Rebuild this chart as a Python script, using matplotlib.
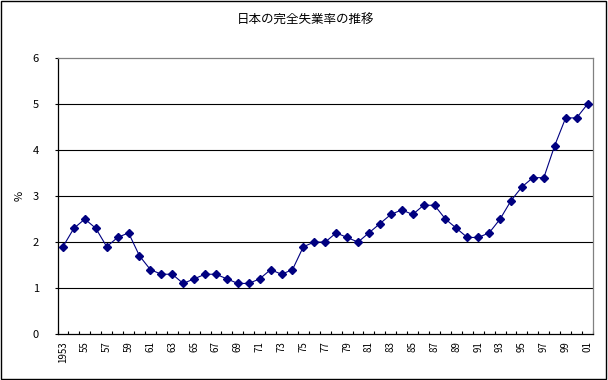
import matplotlib.pyplot as plt
from matplotlib.patches import Rectangle

plt.rcParams['font.family'] = ['Noto Sans CJK JP', 'DejaVu Sans']

years = list(range(1953, 2002))
rates = [1.9, 2.3, 2.5, 2.3, 1.9, 2.1, 2.2, 1.7, 1.4, 1.3,
         1.3, 1.1, 1.2, 1.3, 1.3, 1.2, 1.1, 1.1, 1.2, 1.4,
         1.3, 1.4, 1.9, 2.0, 2.0, 2.2, 2.1, 2.0, 2.2, 2.4,
         2.6, 2.7, 2.6, 2.8, 2.8, 2.5, 2.3, 2.1, 2.1, 2.2,
         2.5, 2.9, 3.2, 3.4, 3.4, 4.1, 4.7, 4.7, 5.0]
tick_labels = ['1953'] + ['%02d' % (y % 100) for y in years[2::2]]

fig = plt.figure(figsize=(6.08, 3.8), dpi=100)
ax = fig.add_axes([0.0946, 0.121, 0.8807, 0.726])

x = list(range(len(years)))
ax.plot(x, rates, color='#000080', linewidth=0.8, marker='D',
        markersize=3.6, markerfacecolor='#000080', markeredgecolor='#000080',
        zorder=3)

ax.set_ylim(0, 6)
ax.set_xlim(-0.5, len(years) - 0.5)
ax.set_yticks(range(0, 7))
for v in range(1, 6):
    ax.axhline(v, color='black', linewidth=0.8, zorder=1)

ax.set_xticks(x[::2])
ax.set_xticklabels(tick_labels, rotation=90, fontsize=7, va='top')
ax.set_xticks([i - 0.5 for i in range(len(years) + 1)], minor=True)
ax.tick_params(axis='x', which='major', length=0, pad=5)
ax.tick_params(axis='x', which='minor', direction='in', length=2.5, width=0.8)
ax.tick_params(axis='y', direction='out', length=2.5, width=0.8, labelsize=8, pad=11)

ax.spines['left'].set_color('black')
ax.spines['bottom'].set_color('black')
ax.spines['top'].set_color('#808080')
ax.spines['right'].set_color('#808080')
for s in ax.spines.values():
    s.set_linewidth(0.9)

ax.set_ylabel('%', fontsize=8, labelpad=6)
fig.text(0.503, 0.947, '日本の完全失業率の推移', ha='center', va='center', fontsize=9)

fig.patches.append(Rectangle((0.001, 0.002), 0.996, 0.995, transform=fig.transFigure,
                             fill=False, edgecolor='black', linewidth=1))

fig.savefig('out.png', dpi=100)
